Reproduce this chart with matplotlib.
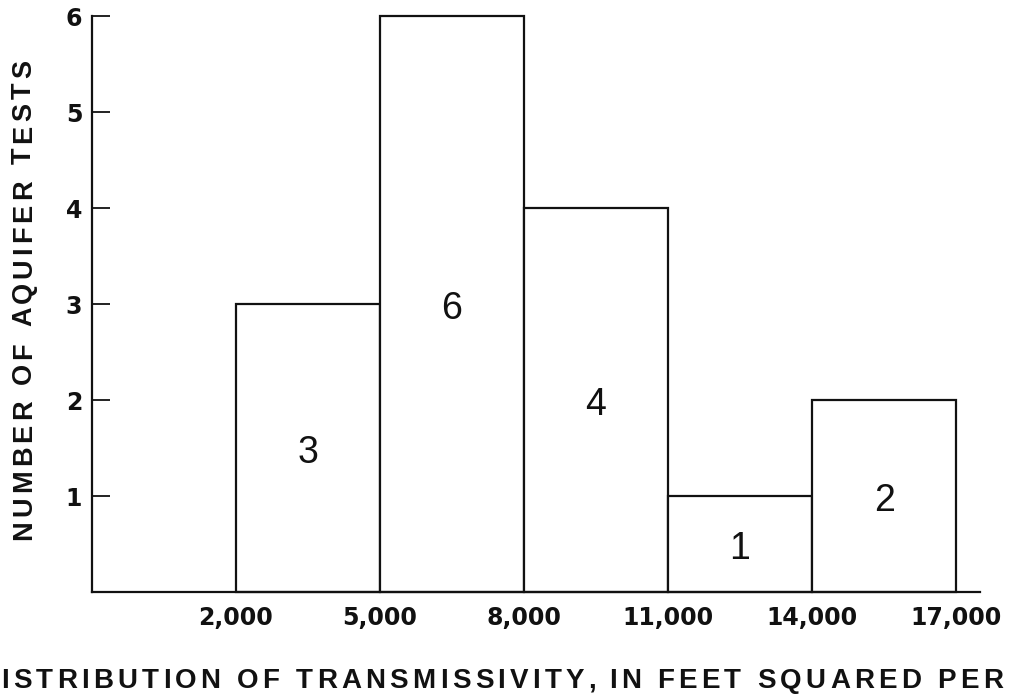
import matplotlib
matplotlib.use('Agg')
import matplotlib.pyplot as plt
from matplotlib.font_manager import FontProperties
from matplotlib.transforms import IdentityTransform

# Histogram of transmissivity from aquifer tests
bin_edges = [2000, 5000, 8000, 11000, 14000, 17000]
counts = [3, 6, 4, 1, 2]
x_ticks = [2000, 5000, 8000, 11000, 14000, 17000]
x_tick_labels = ['2,000', '5,000', '8,000', '11,000', '14,000', '17,000']
y_ticks = [1, 2, 3, 4, 5, 6]
y_title = 'NUMBER OF AQUIFER TESTS'
x_title = 'ISTRIBUTION OF TRANSMISSIVITY, IN FEET SQUARED PER'

plt.rcParams['font.family'] = ['DejaVu Sans']
ink = '#111111'

fig = plt.figure(figsize=(10.15, 6.97), dpi=100)
ax = fig.add_axes([0.0906, 0.1506, 0.875, 0.8264])

widths = [bin_edges[i + 1] - bin_edges[i] for i in range(len(counts))]
ax.bar(bin_edges[:-1], counts, width=widths, align='edge', color='white',
       edgecolor=ink, linewidth=1.6, clip_on=False)

# count written in the middle of each bar
for left, w, c in zip(bin_edges[:-1], widths, counts):
    ax.annotate(str(c), (left + w / 2, c / 2), xytext=(0, -10.5),
                textcoords='offset points', ha='center', va='baseline',
                fontsize=27, family='Liberation Sans', color=ink)

ax.set_xlim(-1000, 17500)
ax.set_ylim(0, 6)
ax.set_xticks(x_ticks)
ax.set_xticklabels(x_tick_labels, fontsize=17, fontweight='bold', color=ink)
ax.set_yticks(y_ticks)
ax.set_yticklabels([str(t) for t in y_ticks], fontsize=17, fontweight='bold', color=ink)
ax.tick_params(axis='x', length=0, pad=10)
ax.tick_params(axis='y', direction='in', length=13, width=1.3, pad=7, color=ink)

for s in ['top', 'right']:
    ax.spines[s].set_visible(False)
for s in ['left', 'bottom']:
    ax.spines[s].set_linewidth(1.6)
    ax.spines[s].set_color(ink)


def tracked_text(s, x0, y0, size, target, vertical=False):
    # letter-spaced title, placed char by char in pixel coords
    r = fig.canvas.get_renderer()
    prop = FontProperties(family='Liberation Sans', weight='bold', size=size)

    def width(t):
        a = r.get_text_width_height_descent(t + 'I', prop, ismath=False)[0]
        b = r.get_text_width_height_descent('I', prop, ismath=False)[0]
        return a - b

    track = (target - width(s)) / (len(s) - 1)
    for i, ch in enumerate(s):
        off = width(s[:i]) + i * track
        if vertical:
            fig.text(x0, y0 + off, ch, rotation=90, rotation_mode='anchor',
                     ha='left', va='baseline', fontproperties=prop, color=ink,
                     transform=IdentityTransform())
        else:
            fig.text(x0 + off, y0, ch, ha='left', va='baseline',
                     fontproperties=prop, color=ink, transform=IdentityTransform())


tracked_text(y_title, 31, 157, 19.5, 480, vertical=True)
tracked_text(x_title, 1, 9, 20, 1002)

fig.savefig('out.png', dpi=100, facecolor='white')
